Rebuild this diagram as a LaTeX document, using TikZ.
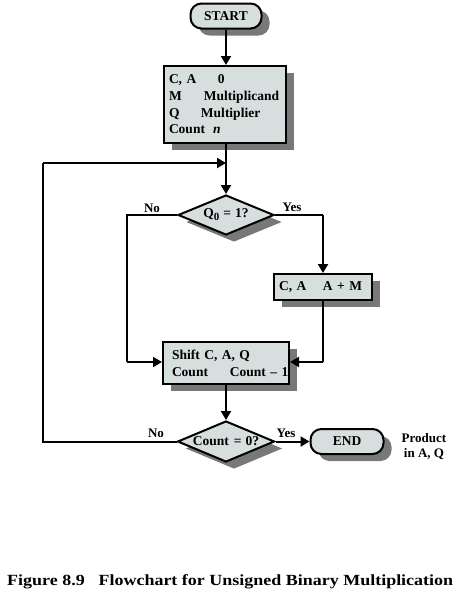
\documentclass[tikz,border=0pt]{standalone}
\usepackage{fontspec}
\setmainfont{Liberation Serif}
\newfontfamily\capfont[FakeStretch=1.16]{Liberation Serif}
\usetikzlibrary{shapes.geometric,shadows,arrows.meta}
\definecolor{boxfill}{RGB}{214,222,222}
\definecolor{shadowgray}{RGB}{120,120,120}
\tikzset{
  shad/.style={drop shadow={shadow xshift=8pt,shadow yshift=-7pt,fill=shadowgray,opacity=1}},
  procbox/.style={draw=black,line width=2pt,fill=boxfill,shad,inner sep=0pt,
    font=\fontsize{13.5}{16.7}\selectfont\bfseries},
  pill/.style={procbox,rounded corners=11pt},
  decision/.style={procbox,diamond,aspect=2.4},
  conn/.style={line width=2pt,-{Triangle[length=9pt,width=10pt]}},
  plain/.style={line width=2pt},
  lbl/.style={font=\fontsize{13}{15}\selectfont\bfseries,inner sep=0pt}
}
\begin{document}
\begin{tikzpicture}[x=1pt,y=-1pt]
\useasboundingbox (0,0) rectangle (464,597);
\fill[white] (0,0) rectangle (464,597);
\node[pill,minimum width=71pt,minimum height=25pt] (start) at (226,16) {START};
\node[procbox,minimum width=122pt,minimum height=77pt,align=left,anchor=north west,text width=112pt] (init) at (163,65)
 {\mbox{\makebox[49pt][l]{C, A}0}\\
  \mbox{\makebox[35pt][l]{M}Multiplicand}\\
  \mbox{\makebox[32pt][l]{Q}Multiplier}\\
  \mbox{\makebox[44pt][l]{Count}\textit{n}}};
\coordinate (j) at (226,163);
\node[decision,minimum width=96pt,minimum height=40pt] (d1) at (226,215)
 {Q\raisebox{-3pt}{\fontsize{11}{11}\selectfont 0}\hspace{4pt}=\hspace{4pt}1?};
\node[procbox,minimum width=98pt,minimum height=26pt,anchor=north west,text width=88pt,align=left] (add) at (273,273)
 {\mbox{\makebox[44pt][l]{C, A}A + M}};
\node[procbox,minimum width=126pt,minimum height=42pt,anchor=north west,text width=108pt,align=left] (shift) at (162,341)
 {\mbox{Shift C, A, Q}\\ \mbox{\makebox[58pt][l]{Count}Count -- 1}};
\node[decision,minimum width=97pt,minimum height=41pt] (d2) at (226,441.5) {Count\hspace{5pt}=\hspace{4pt}0?};
\node[pill,minimum width=73pt,minimum height=25pt] (end) at (347,441.5) {END};
\node[lbl,align=center] (prod) at (424,447) {Product\\in A, Q};
\node[lbl] (no1) at (152,208) {No};
\node[lbl] (yes1) at (292,207) {Yes};
\node[lbl] (no2) at (156,433) {No};
\node[lbl] (yes2) at (286,433) {Yes};
\coordinate (yc) at (323,215);
\coordinate (nc) at (127,215);
\coordinate (ac) at (323,362);
\coordinate (nb) at (127,362);
\coordinate (lb) at (43,441.5);
\coordinate (lt) at (43,163);
\draw[conn] (start.south) -- (start.south |- init.north);
\draw[plain] (init.south -| j) -- (j);
\draw[conn] (j) -- (d1.north);
\draw[plain] (d1.east) -- (yc);
\draw[conn] (yc) -- (add.north -| yc);
\draw[plain] (add.south -| ac) -- (ac);
\draw[conn] (ac) -- (ac -| shift.east);
\draw[plain] (d1.west) -- (nc) -- (nb);
\draw[conn] (nb) -- (nb -| shift.west);
\draw[conn] (shift.south -| d2.north) -- (d2.north);
\draw[conn] (d2.east) -- (end.west);
\draw[plain] (d2.west) -- (lb) -- (lt);
\draw[conn] (lt) -- (j);
\node[font=\capfont\fontsize{15.5}{18}\selectfont\bfseries,anchor=west,inner sep=0pt] (cap) at (7,582) {Figure 8.9\hspace{0.6em} Flowchart for Unsigned Binary Multiplication};
\end{tikzpicture}
\end{document}
